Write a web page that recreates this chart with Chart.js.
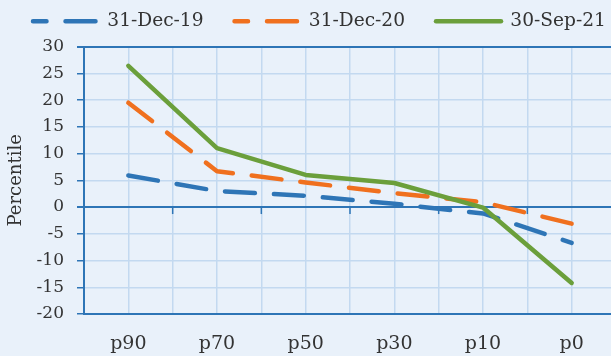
<!DOCTYPE html>
<html>
<head>
<meta charset="utf-8">
<script src="https://cdn.jsdelivr.net/npm/chart.js@4"></script>
<style>
html,body{margin:0;padding:0;overflow:hidden;background:#e9f1fa;}
#wrap{width:616px;height:356px;}
</style>
</head>
<body>
<div id="wrap"><canvas id="chart"></canvas></div>
<script>
// data
const categories=["p90","p70","p50","p30","p10","p0"];
const dec19=[5.9,3.0,2.1,0.6,-1.2,-6.7];
const dec20=[19.5,6.7,4.6,2.6,0.9,-3.1];
const sep21=[26.4,11.0,6.0,4.5,-0.1,-14.2];
const seriesNames=["31-Dec-19","31-Dec-20","30-Sep-21"];
const yTicks={min:-20,max:30,step:5};

const axisBlue="#2e75b6";
const gridBlue="#c3d9f0";
const textCol="#333333";

Chart.defaults.font.family="'DejaVu Serif', serif";
Chart.defaults.color=textCol;

const toPoints=arr=>arr.map((v,i)=>({x:i,y:v}));

// small ticks under the zero line between categories
const zeroTicks={
  id:"zeroTicks",
  beforeDatasetsDraw(chart){
    const xs=chart.scales.x, ys=chart.scales.y, ctx=chart.ctx;
    const y0=ys.getPixelForValue(0);
    ctx.save();
    ctx.strokeStyle=axisBlue;
    ctx.lineWidth=1.5;
    for(let i=0;i<categories.length-1;i++){
      const x=xs.getPixelForValue(i+0.5);
      ctx.beginPath();
      ctx.moveTo(x,y0);
      ctx.lineTo(x,y0+7);
      ctx.stroke();
    }
    ctx.restore();
  }
};

// keep the legend on one row and push the plot down a bit
const legendSpace={
  id:"legendSpace",
  beforeInit(chart){
    const fit=chart.legend.fit;
    chart.legend.fit=function(){
      this.maxWidth=Math.max(this.maxWidth,720);
      fit.call(this);
      this.height+=6;
    };
  },
  afterLayout(chart){
    chart.legend.right=chart.legend.left+720;
  }
};

const dash=[30,19];

new Chart(document.getElementById("chart"),{
  type:"line",
  data:{
    datasets:[
      {label:seriesNames[0],data:toPoints(dec19),borderColor:"#2e75b6",borderWidth:4.5,borderDash:dash,borderCapStyle:"round",order:2},
      {label:seriesNames[1],data:toPoints(dec20),borderColor:"#f0701e",borderWidth:4.5,borderDash:dash,borderCapStyle:"round",order:1},
      {label:seriesNames[2],data:toPoints(sep21),borderColor:"#6b9f3b",borderWidth:4.5,borderCapStyle:"round",order:0}
    ]
  },
  options:{
    responsive:true,
    maintainAspectRatio:false,
    animation:false,
    layout:{padding:{top:-19,left:2,right:0,bottom:1}},
    elements:{point:{radius:0},line:{tension:0,borderJoinStyle:"round"}},
    plugins:{
      tooltip:{enabled:false},
      legend:{
        position:"top",
        align:"start",
        labels:{
          usePointStyle:true,
          pointStyle:"line",
          pointStyleWidth:65,
          padding:31,
          font:{size:18.6},
          generateLabels(chart){
            return chart.data.datasets.map((ds,i)=>({
              text:ds.label,
              datasetIndex:i,
              strokeStyle:ds.borderColor,
              fillStyle:ds.borderColor,
              fontColor:textCol,
              lineWidth:ds.borderWidth,
              lineDash:ds.borderDash||[],
              lineDashOffset:ds.borderDash?16.5:0,
              lineCap:"round",
              pointStyle:"line",
              hidden:false
            }));
          }
        }
      }
    },
    scales:{
      x:{
        type:"linear",
        min:-0.5,
        max:categories.length-0.5,
        afterFit(scale){
          scale.height=41;
          scale.paddingLeft=0;
          scale.paddingRight=0;
        },
        grid:{color:gridBlue,lineWidth:1.5,drawTicks:false},
        border:{color:axisBlue,width:2},
        ticks:{
          stepSize:0.5,
          autoSkip:false,
          maxRotation:0,
          padding:19,
          font:{size:19},
          callback(v){
            const r=Math.round(v);
            return Math.abs(v-r)<1e-6 ? categories[r] : "";
          }
        }
      },
      y:{
        min:yTicks.min,
        max:yTicks.max,
        afterFit(scale){scale.width=82;},
        grid:{
          color:c=>(c.tick.value===0||c.tick.value===yTicks.max)?axisBlue:gridBlue,
          lineWidth:c=>(c.tick.value===0||c.tick.value===yTicks.max)?2:1.5,
          tickColor:axisBlue,
          tickLength:7
        },
        border:{color:axisBlue,width:2},
        ticks:{stepSize:yTicks.step,autoSkip:false,padding:13,font:{size:17}},
        title:{display:true,text:"Percentile",font:{size:18},padding:{top:4,bottom:0}}
      }
    }
  },
  plugins:[zeroTicks,legendSpace]
});
</script>
</body>
</html>
